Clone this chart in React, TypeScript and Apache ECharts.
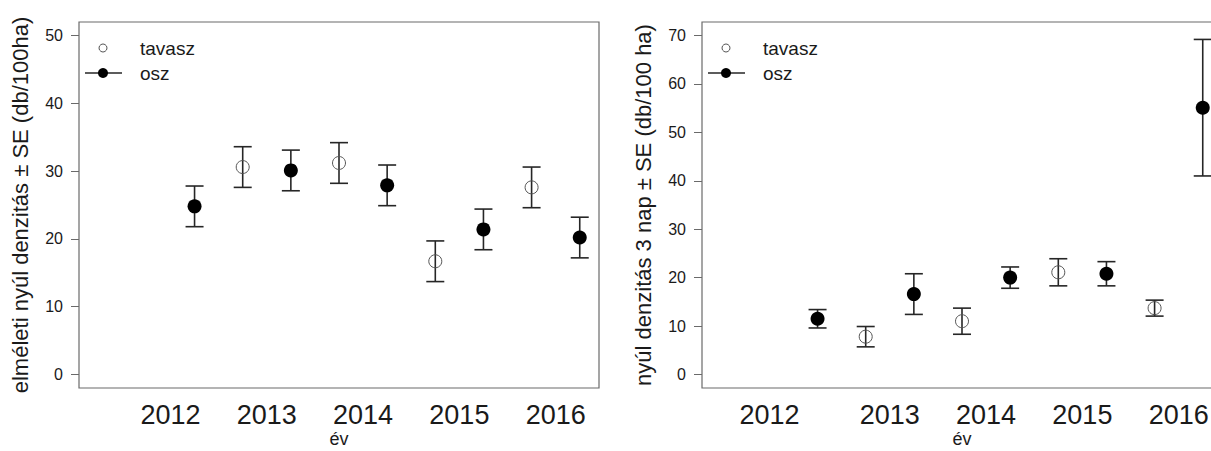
import React, { useEffect, useRef } from "react";
import * as echarts from "echarts";

// Years shown on both panels
const years = ["2012", "2013", "2014", "2015", "2016"];

// x slots: spring (tavasz) and autumn (osz) estimates sit side by side
const tavaszPos = [1, 3, 5, 7, 9];
const oszPos = [2, 4, 6, 8, 10];

// where the year labels sit on each panel's x axis
const leftLabelPos = [1.5, 3.5, 5.5, 7.5, 9.5];
const rightLabelPos = [1, 3.5, 5.5, 7.5, 9.5];

// Left panel: theoretical hare density (db/100ha), mean and SE
const leftTavaszMean = [null, 30.6, 31.2, 16.7, 27.6];
const leftTavaszSE = [null, 3.0, 3.0, 3.0, 3.0];
const leftOszMean = [24.8, 30.1, 27.9, 21.4, 20.2];
const leftOszSE = [3.0, 3.0, 3.0, 3.0, 3.0];

// Right panel: 3-night hare density (db/100 ha), mean and SE
const rightTavaszMean = [null, 7.8, 11.0, 21.1, 13.7];
const rightTavaszSE = [null, 2.1, 2.7, 2.8, 1.65];
const rightOszMean = [11.5, 16.6, 20.0, 20.8, 55.1];
const rightOszSE = [1.9, 4.2, 2.2, 2.5, 14.1];

// y tick values
const leftTicks = [0, 10, 20, 30, 40, 50];
const rightTicks = [0, 10, 20, 30, 40, 50, 60, 70];

const FONT = "'Liberation Sans', Arial, sans-serif";
const BOX = "#6a6a6a";
const INK = "#1a1a1a";

type Num = number | null;

function points(pos: number[], mean: Num[]) {
  const out: number[][] = [];
  mean.forEach((m, i) => {
    if (m !== null) out.push([pos[i], m]);
  });
  return out;
}

function bars(pos: number[], mean: Num[], se: Num[]) {
  const out: number[][] = [];
  mean.forEach((m, i) => {
    const s = se[i];
    if (m !== null && s !== null) out.push([pos[i], m - s, m + s]);
  });
  return out;
}

function errorRender(params: any, api: any) {
  const x = api.value(0);
  const top = api.coord([x, api.value(2)]);
  const bot = api.coord([x, api.value(1)]);
  const hw = 9;
  const style = { stroke: "#262626", lineWidth: 1.6 };
  return {
    type: "group",
    children: [
      { type: "line", shape: { x1: top[0], y1: top[1], x2: bot[0], y2: bot[1] }, style },
      { type: "line", shape: { x1: top[0] - hw, y1: top[1], x2: top[0] + hw, y2: top[1] }, style },
      { type: "line", shape: { x1: bot[0] - hw, y1: bot[1], x2: bot[0] + hw, y2: bot[1] }, style },
    ],
  };
}

const GRID_TOP = 22;
const GRID_H = 366;
const GRID_W = 520;
const LEFT_X = 79;
const RIGHT_X = 702;

function xAxisFor(gridIndex: number, labelPos: number[]) {
  return {
    type: "value",
    gridIndex,
    min: -0.4,
    max: 10.4,
    axisLine: { show: false, onZero: false },
    axisTick: { show: false },
    splitLine: { show: false },
    axisLabel: {
      customValues: labelPos,
      formatter: (v: number) => {
        const i = labelPos.findIndex((p) => Math.abs(p - v) < 1e-6);
        return i >= 0 ? years[i] : "";
      },
      fontSize: 27,
      fontFamily: FONT,
      color: INK,
      margin: 13,
    },
    name: "év",
    nameLocation: "middle",
    nameGap: 42,
    nameMoveOverlap: false,
    nameTextStyle: { fontSize: 18, fontFamily: FONT, color: INK },
  };
}

function yAxisFor(gridIndex: number, min: number, max: number, ticks: number[], title: string) {
  return {
    type: "value",
    gridIndex,
    min,
    max,
    axisLine: { show: false, onZero: false },
    axisTick: { show: true, inside: false, length: 8, customValues: ticks, lineStyle: { color: BOX, width: 1 } },
    splitLine: { show: false },
    axisLabel: { customValues: ticks, fontSize: 16, fontFamily: FONT, color: INK, margin: 16 },
    name: title,
    nameLocation: "middle",
    nameRotate: 90,
    nameGap: 48,
    nameMoveOverlap: false,
    nameTextStyle: { fontSize: 22, fontFamily: FONT, color: INK },
  };
}

function legendFor(left: number) {
  const y1 = 48;
  const y2 = 73;
  return [
    { type: "circle", shape: { cx: left + 24, cy: y1, r: 4 }, style: { fill: "none", stroke: "#555", lineWidth: 1 } },
    { type: "text", x: left + 61, y: y1, style: { text: "tavasz", fontSize: 19, fontFamily: FONT, fill: INK, verticalAlign: "middle" } },
    { type: "line", shape: { x1: left + 6, y1: y2, x2: left + 43, y2: y2 }, style: { stroke: "#262626", lineWidth: 1.3 } },
    { type: "circle", shape: { cx: left + 24, cy: y2, r: 5 }, style: { fill: "#000" } },
    { type: "text", x: left + 61, y: y2, style: { text: "osz", fontSize: 19, fontFamily: FONT, fill: INK, verticalAlign: "middle" } },
  ];
}

function panelSeries(idx: number, tMean: Num[], tSE: Num[], oMean: Num[], oSE: Num[]) {
  const ax = { xAxisIndex: idx, yAxisIndex: idx };
  return [
    { type: "custom", ...ax, renderItem: errorRender, data: bars(tavaszPos, tMean, tSE), encode: { x: 0, y: [1, 2] }, z: 2 },
    { type: "custom", ...ax, renderItem: errorRender, data: bars(oszPos, oMean, oSE), encode: { x: 0, y: [1, 2] }, z: 2 },
    {
      type: "scatter",
      name: "tavasz",
      ...ax,
      data: points(tavaszPos, tMean),
      symbol: "circle",
      symbolSize: 13,
      itemStyle: { color: "transparent", borderColor: "#555", borderWidth: 1, opacity: 1 },
      z: 3,
    },
    {
      type: "scatter",
      name: "osz",
      ...ax,
      data: points(oszPos, oMean),
      symbol: "circle",
      symbolSize: 14,
      itemStyle: { color: "#000", opacity: 1 },
      z: 3,
    },
  ];
}

export default function App() {
  const ref = useRef<HTMLDivElement>(null);

  useEffect(() => {
    if (!ref.current) return;
    const chart = echarts.init(ref.current, undefined, { renderer: "svg" });
    const gridBase = {
      top: GRID_TOP,
      width: GRID_W,
      height: GRID_H,
      show: true,
      borderColor: BOX,
      borderWidth: 1.2,
      backgroundColor: "transparent",
      containLabel: false,
      outerBoundsMode: "none",
    };
    chart.setOption({
      animation: false,
      backgroundColor: "#fff",
      textStyle: { fontFamily: FONT },
      grid: [
        { ...gridBase, left: LEFT_X },
        { ...gridBase, left: RIGHT_X },
      ],
      xAxis: [xAxisFor(0, leftLabelPos), xAxisFor(1, rightLabelPos)],
      yAxis: [
        yAxisFor(0, -2, 52, leftTicks, "elméleti nyúl denzitás ± SE (db/100ha)"),
        yAxisFor(1, -2.8, 72.8, rightTicks, "nyúl denzitás 3 nap ± SE (db/100 ha)"),
      ],
      graphic: [...legendFor(LEFT_X), ...legendFor(RIGHT_X)],
      series: [
        ...panelSeries(0, leftTavaszMean, leftTavaszSE, leftOszMean, leftOszSE),
        ...panelSeries(1, rightTavaszMean, rightTavaszSE, rightOszMean, rightOszSE),
      ],
    });
    return () => chart.dispose();
  }, []);

  return (
    <div style={{ position: "absolute", left: 0, top: 0, width: 1211, height: 451, overflow: "hidden", background: "#fff" }}>
      <div ref={ref} style={{ width: 1240, height: 451 }} />
    </div>
  );
}
